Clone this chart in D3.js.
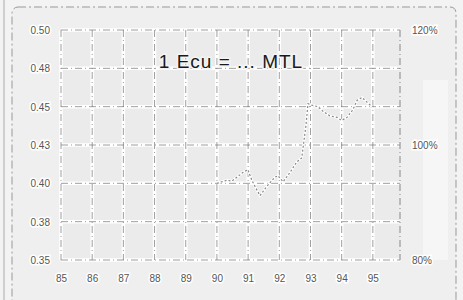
<!DOCTYPE html>
<html><head><meta charset="utf-8">
<script src="https://cdn.jsdelivr.net/npm/d3@7"></script>
<style>html,body{margin:0;padding:0;background:#f3f3f3;}svg{display:block;}</style>
</head><body>
<svg id="c" width="463" height="300"></svg>
<script>
const title = "1 Ecu = ... MTL";
const years = [85,86,87,88,89,90,91,92,93,94,95];
const yearLabels = ["85","86","87","88","89","90","91","92","93","94","95"];
const leftTicks = [0.35,0.375,0.40,0.425,0.45,0.475,0.50];
const leftLabels = ["0.35","0.38","0.40","0.43","0.45","0.48","0.50"];
const rightTicks = [80,100,120];
const rightLabels = ["80%","100%","120%"];
const dates = [90.0,90.16,90.32,90.48,90.64,90.83,90.99,91.12,91.22,91.38,91.6,91.86,91.96,92.12,92.34,92.56,92.72,92.85,92.92,93.04,93.24,93.4,93.62,93.85,94.0,94.17,94.36,94.49,94.65,94.81,94.97];
const rates = [0.400,0.401,0.402,0.4015,0.404,0.407,0.409,0.402,0.398,0.392,0.398,0.404,0.405,0.401,0.407,0.414,0.4165,0.437,0.452,0.451,0.450,0.447,0.444,0.443,0.441,0.443,0.448,0.454,0.456,0.453,0.450];

const svg = d3.select("#c");
const L=61,R=400,T=30,B=260;
const x = d3.scaleLinear().domain([85,95.87]).range([L,R]);
const y = d3.scaleLinear().domain([0.35,0.50]).range([B,T]);
const yr = d3.scaleLinear().domain([80,120]).range([B,T]);

// outer frame
svg.append("line").attr("x1",4).attr("x2",4).attr("y1",0).attr("y2",300).attr("stroke","#aaa");
svg.append("rect").attr("x",12).attr("y",7).attr("width",444).attr("height",300).attr("rx",6)
  .attr("fill","#efefef").attr("stroke","#999").attr("stroke-dasharray","8,3,2,3");
svg.append("rect").attr("x",423).attr("y",80).attr("width",25).attr("height",180).attr("fill","#f6f6f6");

// plot background
svg.append("rect").attr("x",L).attr("y",T).attr("width",R-L).attr("height",B-T).attr("fill","#ebebeb");

const g = svg.append("g");
// white grid
years.forEach(v=>g.append("line").attr("x1",x(v)).attr("x2",x(v)).attr("y1",T).attr("y2",B).attr("stroke","#fff").attr("stroke-width",3.5));
leftTicks.forEach(v=>g.append("line").attr("x1",L).attr("x2",R).attr("y1",y(v)).attr("y2",y(v)).attr("stroke","#fff").attr("stroke-width",3.5));
// dashed dark grid
years.forEach(v=>g.append("line").attr("x1",x(v)).attr("x2",x(v)).attr("y1",T).attr("y2",B).attr("stroke","#777").attr("stroke-width",1).attr("stroke-dasharray","7,3,1,3").attr("opacity",0.7));
leftTicks.forEach(v=>g.append("line").attr("x1",L).attr("x2",R).attr("y1",y(v)).attr("y2",y(v)).attr("stroke","#777").attr("stroke-width",1).attr("stroke-dasharray","7,3,1,3").attr("opacity",0.7));
g.append("line").attr("x1",R).attr("x2",R).attr("y1",T).attr("y2",B).attr("stroke","#888").attr("stroke-dasharray","7,3,1,3");

// data line
const line = d3.line().x((d,i)=>x(dates[i])).y(d=>y(d));
svg.append("path").datum(rates).attr("d",line).attr("fill","none").attr("stroke","#fff").attr("stroke-width",2.5);
svg.append("path").datum(rates).attr("d",line).attr("fill","none").attr("stroke","#888").attr("stroke-width",1.2).attr("stroke-dasharray","2,2");

// axes labels
function halo(sel){sel.attr("stroke","#fff").attr("stroke-width",3).attr("paint-order","stroke");}
function style(sel){sel.attr("font-family","Liberation Sans, Arial, sans-serif").attr("font-size",10).attr("fill","#555").call(halo);}
const ya = svg.append("g").attr("transform",`translate(${L-8},0)`)
  .call(d3.axisLeft(y).tickValues(leftTicks).tickFormat((d,i)=>leftLabels[i]).tickSize(0));
ya.select(".domain").remove();
ya.selectAll("text").call(style).attr("dy","0.35em");
const yb = svg.append("g").attr("transform",`translate(${R+9},0)`)
  .call(d3.axisRight(yr).tickValues(rightTicks).tickFormat((d,i)=>rightLabels[i]).tickSize(0));
yb.select(".domain").remove();
yb.selectAll("text").call(style).attr("dy","0.35em");
const xa = svg.append("g").attr("transform",`translate(0,${B+12})`)
  .call(d3.axisBottom(x).tickValues(years).tickFormat((d,i)=>yearLabels[i]).tickSize(0));
xa.select(".domain").remove();
xa.selectAll("text").call(style);

svg.append("text").attr("x",231).attr("y",68).attr("text-anchor","middle")
  .attr("font-family","Liberation Sans, Arial, sans-serif").attr("font-size",19).attr("letter-spacing","1px").attr("fill","#1a1a1a")
  .attr("stroke","#f4f4f4").attr("stroke-width",3).attr("paint-order","stroke").text(title);
</script>
</body></html>
